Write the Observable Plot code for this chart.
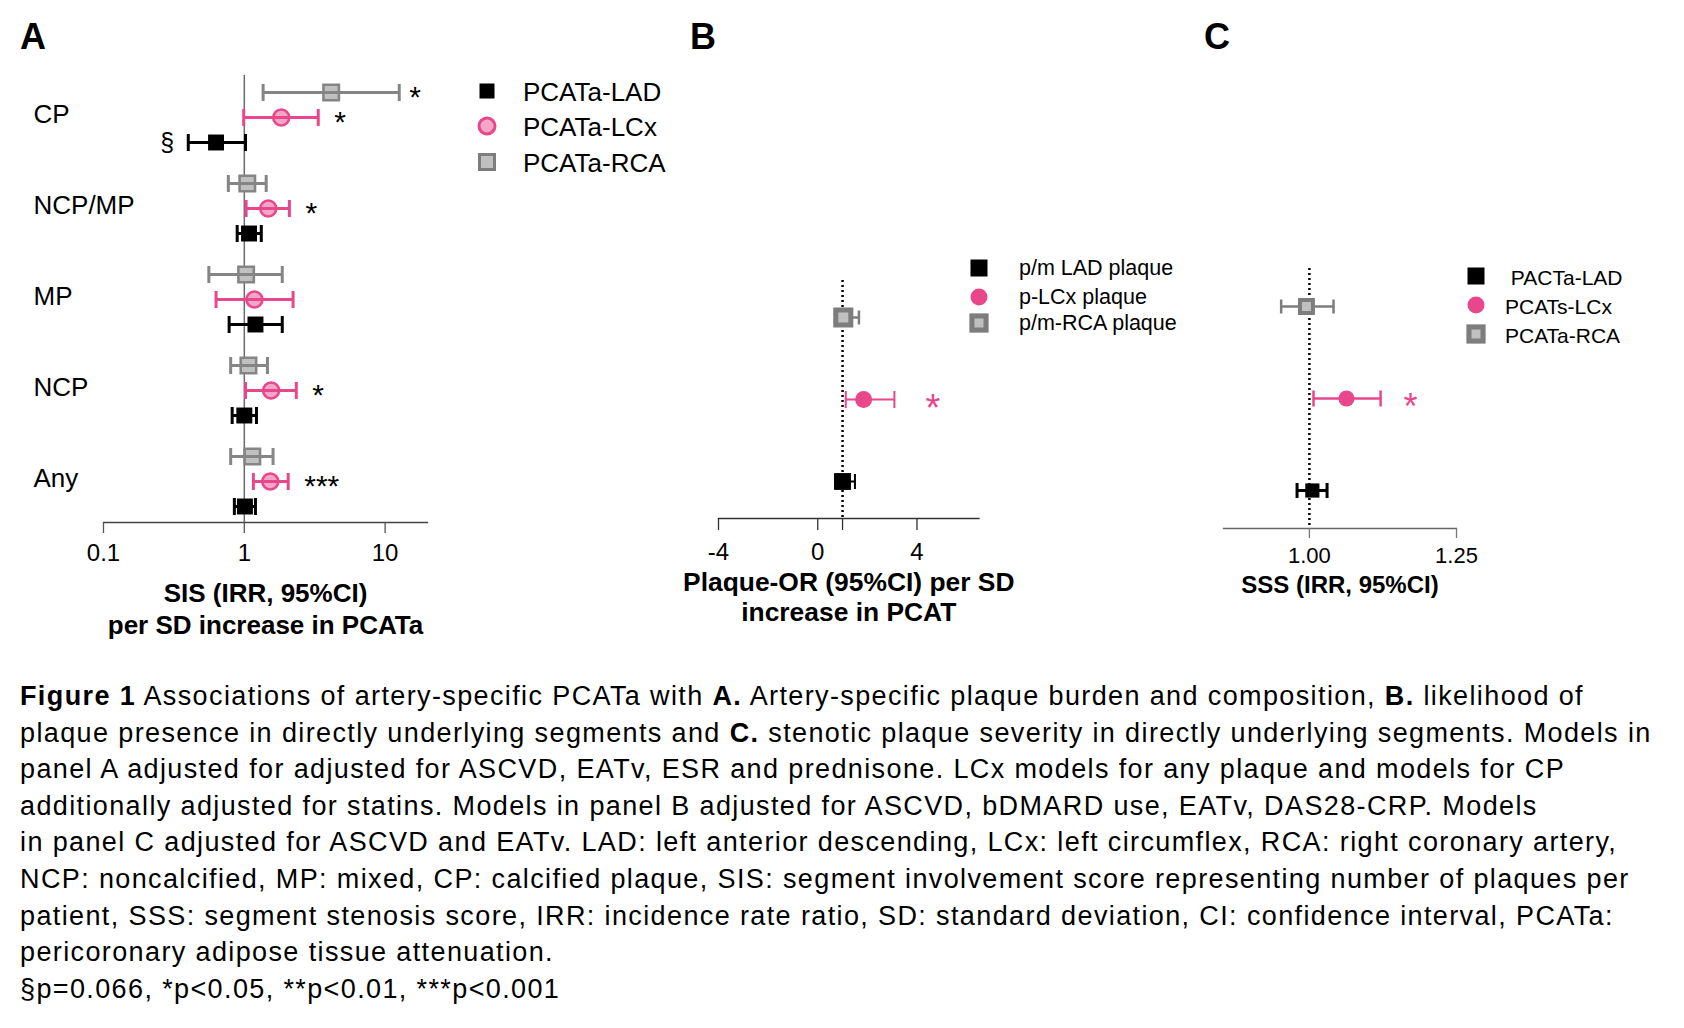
<!DOCTYPE html>
<html><head><meta charset="utf-8">
<script src="https://cdn.jsdelivr.net/npm/d3@7"></script>
<script src="https://cdn.jsdelivr.net/npm/@observablehq/plot@0.6"></script>
<style>
html,body{margin:0;padding:0;background:#fff;}
#page{position:relative;width:1684px;height:1028px;font-family:"Liberation Sans",Arial,Helvetica,sans-serif;color:#000;overflow:hidden;background:#fff;}
.panel{position:absolute;top:0;}
.letter{position:absolute;font-weight:bold;font-size:36px;line-height:1;transform:translate(-50%,-50%);}
.lsym{position:absolute;box-sizing:border-box;transform:translate(-50%,-50%);}
.llab{position:absolute;line-height:1;white-space:pre;transform:translateY(-50%);}
#caption{position:absolute;left:20px;top:678px;font-size:27px;line-height:36.6px;letter-spacing:1.38px;white-space:nowrap;}
</style></head>
<body><div id="page"></div>
<script>
// ---------- Panel A data (SIS IRR, 95% CI) ----------
const groupsA = ["CP", "NCP/MP", "MP", "NCP", "Any"];
const ladEstA = [0.63, 1.08, 1.20, 1.00, 1.01];
const ladLoA  = [0.40, 0.89, 0.78, 0.82, 0.85];
const ladHiA  = [1.02, 1.32, 1.86, 1.22, 1.20];
const ladSigA = ["§", "", "", "", ""];
const lcxEstA = [1.83, 1.48, 1.18, 1.55, 1.53];
const lcxLoA  = [0.99, 1.03, 0.63, 1.02, 1.16];
const lcxHiA  = [3.35, 2.09, 2.22, 2.34, 2.05];
const lcxSigA = ["*", "*", "", "*", "***"];
const rcaEstA = [4.14, 1.05, 1.03, 1.07, 1.14];
const rcaLoA  = [1.36, 0.77, 0.56, 0.80, 0.80];
const rcaHiA  = [12.6, 1.43, 1.86, 1.46, 1.60];
const rcaSigA = ["*", "", "", "", ""];
const seriesA = ["PCATa-LAD", "PCATa-LCx", "PCATa-RCA"];
const ticksA = [0.1, 1, 10];

// ---------- Panel B data (plaque OR, 95% CI) ----------
const rowsB = ["RCA", "LCx", "LAD"];
const estB = [1.03, 1.85, 1.00];
const loB  = [0.70, 1.13, 0.70];
const hiB  = [1.66, 3.09, 1.50];
const sigB = ["", "*", ""];
const seriesB = ["p/m LAD plaque", "p-LCx plaque", "p/m-RCA plaque"];
const ticksB = [-4, 0, 1, 4];

// ---------- Panel C data (SSS IRR, 95% CI) ----------
const rowsC = ["RCA", "LCx", "LAD"];
const estC = [0.995, 1.063, 1.005];
const loC  = [0.952, 1.007, 0.979];
const hiC  = [1.041, 1.121, 1.030];
const sigC = ["", "*", ""];
const seriesC = [" PACTa-LAD", "PCATs-LCx", "PCATa-RCA"];
const ticksC = [1.00, 1.25];

const PINK = "#E8478B", PINK_L = "#F3A6C7", GRAY = "#858585", GRAY_L = "#C0C0C0";
const FONT = '"Liberation Sans", Arial, Helvetica, sans-serif';

const capSym = {draw(ctx, size) { const h = Math.sqrt(size / Math.PI); ctx.moveTo(0, -h); ctx.lineTo(0, h); }};

function rows(keys, est, lo, hi, sig) {
  return keys.map((g, i) => ({g, est: est[i], lo: lo[i], hi: hi[i], sig: sig[i]}));
}
function forest(data, s) {
  const dot = Plot.dot(data, {x: "est", y: "g", dy: s.dy, symbol: s.symbol, r: s.r,
    fill: s.fill, stroke: s.stroke || "none", strokeWidth: s.sw || 0});
  const bar = Plot.ruleY(data, {x1: "lo", x2: "hi", y: "g", dy: s.dy, stroke: s.color, strokeWidth: s.barW});
  const c1 = Plot.dot(data, {x: "lo", y: "g", dy: s.dy, symbol: capSym, r: s.cap, fill: "none", stroke: s.color, strokeWidth: s.barW});
  const c2 = Plot.dot(data, {x: "hi", y: "g", dy: s.dy, symbol: capSym, r: s.cap, fill: "none", stroke: s.color, strokeWidth: s.barW});
  return s.barsOnTop ? [dot, bar, c1, c2] : [bar, c1, c2, dot];
}

const page = document.getElementById("page");
function place(el, left) { const d = document.createElement("div"); d.className = "panel"; d.style.left = left + "px"; d.appendChild(el); page.appendChild(d); }

// ---------- Panel A ----------
const ladA = rows(groupsA, ladEstA, ladLoA, ladHiA, ladSigA);
const lcxA = rows(groupsA, lcxEstA, lcxLoA, lcxHiA, lcxSigA);
const rcaA = rows(groupsA, rcaEstA, rcaLoA, rcaHiA, rcaSigA);
const plotA = Plot.plot({
  width: 440, height: 650, marginLeft: 103, marginRight: 13, marginTop: 75, marginBottom: 128,
  style: {fontFamily: FONT, fontSize: "24px", color: "#000", background: "transparent", overflow: "visible"},
  x: {type: "log", domain: [0.1, 20], axis: null},
  y: {type: "point", domain: groupsA, padding: 0.45, axis: null},
  marks: [
    Plot.ruleX([1], {stroke: "#6b6b6b", strokeWidth: 1.5}),
    Plot.frame({anchor: "bottom", stroke: "#444", strokeWidth: 1.3}),
    Plot.axisX({ticks: ticksA, tickFormat: d => String(d), tickSize: 11, tickPadding: 10, stroke: "#555", strokeWidth: 1.3, label: null, fontSize: 24}),
    ...forest(rcaA, {dy: -25, symbol: "square", r: 8.7, fill: GRAY_L, stroke: GRAY, sw: 2.6, color: GRAY, barW: 3, cap: 8.5, barsOnTop: true}),
    ...forest(lcxA, {dy: 0, symbol: "circle", r: 8, fill: PINK_L, stroke: PINK, sw: 2.6, color: PINK, barW: 3, cap: 8.5, barsOnTop: true}),
    ...forest(ladA, {dy: 25, symbol: "square", r: 9, fill: "#000", color: "#000", barW: 3, cap: 8.5, barsOnTop: true}),
    Plot.text(rcaA.filter(d => d.sig), {x: "hi", y: "g", dy: -25 + 5, dx: 10, text: "sig", textAnchor: "start", fontSize: 30}),
    Plot.text(lcxA.filter(d => d.sig), {x: "hi", y: "g", dy: 5, dx: 16, text: "sig", textAnchor: "start", fontSize: 30}),
    Plot.text(ladA.filter(d => d.sig), {x: "lo", y: "g", dy: 25, dx: -14, text: "sig", textAnchor: "end", fontSize: 25}),
    Plot.text(groupsA, {y: d => d, text: d => d, frameAnchor: "left", dx: -70, dy: -2.5, textAnchor: "start", fontSize: 26}),
    Plot.text(["SIS (IRR, 95%CI)\nper SD increase in PCATa"], {text: d => d, frameAnchor: "bottom", lineAnchor: "middle", dy: 85, lineHeight: 1.25, fontWeight: "bold", fontSize: 26})
  ]
});
place(plotA, 0);

// ---------- Panel B ----------
const dataB = rows(rowsB, estB, loB, hiB, sigB);
const plotB = Plot.plot({
  width: 400, height: 650, marginLeft: 78, marginRight: 61.5, marginTop: 280, marginBottom: 132,
  style: {fontFamily: FONT, fontSize: "24px", color: "#000", background: "transparent", overflow: "visible"},
  x: {domain: [-4, 6.5], axis: null},
  y: {type: "point", domain: rowsB, padding: 0.44, axis: null},
  marks: [
    Plot.ruleX([1], {stroke: "#000", strokeWidth: 2.5, strokeDasharray: "2,3"}),
    Plot.frame({anchor: "bottom", stroke: "#333", strokeWidth: 1.3}),
    Plot.axisX({ticks: ticksB, tickFormat: d => d === 1 ? "" : (d < 0 ? "-" + Math.abs(d) : String(d)), tickSize: 12, tickPadding: 12, stroke: "#333", strokeWidth: 1.3, label: null, fontSize: 24}),
    ...forest(dataB.filter(d => d.g === "RCA"), {dy: 0, symbol: "square", r: 8.5, fill: GRAY_L, stroke: "#7d7d7d", sw: 5, color: "#7d7d7d", barW: 2.5, cap: 7}),
    ...forest(dataB.filter(d => d.g === "LCx"), {dy: 0, symbol: "circle", r: 8.5, fill: PINK, color: PINK, barW: 2, cap: 8.5}),
    ...forest(dataB.filter(d => d.g === "LAD"), {dy: 0, symbol: "square", r: 9.5, fill: "#000", color: "#000", barW: 2, cap: 7.5}),
    Plot.text(dataB.filter(d => d.sig), {x: "hi", y: "g", dy: 9, dx: 31, text: "sig", textAnchor: "start", fontSize: 38, fill: PINK}),
    Plot.text(["Plaque-OR (95%CI) per SD\nincrease in PCAT"], {text: d => d, frameAnchor: "bottom", lineAnchor: "middle", dy: 78, lineHeight: 1.14, fontWeight: "bold", fontSize: 26.4})
  ]
});
place(plotB, 640);

// ---------- Panel C ----------
const dataC = rows(rowsC, estC, loC, hiC, sigC);
const plotC = Plot.plot({
  width: 400, height: 650, marginLeft: 83, marginRight: 84, marginTop: 268, marginBottom: 122,
  style: {fontFamily: FONT, fontSize: "22px", color: "#000", background: "transparent", overflow: "visible"},
  x: {domain: [0.854, 1.25], axis: null},
  y: {type: "point", domain: rowsC, padding: 0.4, axis: null},
  marks: [
    Plot.frame({anchor: "bottom", stroke: "#666", strokeWidth: 1.3}),
    Plot.axisX({ticks: ticksC, tickFormat: d3.format(".2f"), tickSize: 10, tickPadding: 9, stroke: "#777", strokeWidth: 1.3, label: null, fontSize: 22}),
    Plot.ruleX([1], {stroke: "#000", strokeWidth: 2.5, strokeDasharray: "2,3"}),
    ...forest(dataC.filter(d => d.g === "RCA"), {dy: 0, symbol: "square", r: 7.3, fill: GRAY_L, stroke: "#7d7d7d", sw: 4, color: "#7d7d7d", barW: 2.5, cap: 7}),
    ...forest(dataC.filter(d => d.g === "LCx"), {dy: 0, symbol: "circle", r: 8, fill: PINK, color: PINK, barW: 2.5, cap: 8}),
    ...forest(dataC.filter(d => d.g === "LAD"), {dy: 0, symbol: "square", r: 8, fill: "#000", color: "#000", barW: 3, cap: 7.5}),
    Plot.text(dataC.filter(d => d.sig), {x: "hi", y: "g", dy: 9, dx: 23, text: "sig", textAnchor: "start", fontSize: 36, fill: PINK}),
    Plot.text(["SSS (IRR, 95%CI)"], {text: d => d, frameAnchor: "bottom", lineAnchor: "middle", dy: 57, fontWeight: "bold", fontSize: 24})
  ]
});
place(plotC, 1140);

// ---------- Panel letters ----------
[["A", 33, 37], ["B", 703, 37], ["C", 1217, 37]].forEach(([t, x, y]) => {
  const d = document.createElement("div"); d.className = "letter"; d.textContent = t;
  d.style.left = x + "px"; d.style.top = y + "px"; page.appendChild(d);
});

// ---------- Legends ----------
const shapes = {
  ladA: {w: 15, h: 15, bg: "#000", border: "none", radius: 0},
  lcxA: {w: 19, h: 19, bg: PINK_L, border: "3px solid " + PINK, radius: "50%"},
  rcaA: {w: 18, h: 18, bg: GRAY_L, border: "3px solid #7d7d7d", radius: 0},
  ladB: {w: 17, h: 17, bg: "#000", border: "none", radius: 0},
  lcxB: {w: 17, h: 17, bg: PINK, border: "none", radius: "50%"},
  rcaB: {w: 19, h: 19, bg: GRAY_L, border: "5.5px solid #7d7d7d", radius: 0}
};
function legend(labels, shapeKeys, symX, labX, ys, fontSize) {
  labels.forEach((lab, i) => {
    const s = shapes[shapeKeys[i]];
    const sym = document.createElement("div"); sym.className = "lsym";
    Object.assign(sym.style, {left: symX + "px", top: ys[i] + "px", width: s.w + "px", height: s.h + "px", background: s.bg, border: s.border, borderRadius: s.radius});
    page.appendChild(sym);
    const t = document.createElement("div"); t.className = "llab"; t.textContent = lab;
    Object.assign(t.style, {left: labX + "px", top: (ys[i] + 1) + "px", fontSize: fontSize + "px"});
    page.appendChild(t);
  });
}
legend(seriesA, ["ladA", "lcxA", "rcaA"], 487, 523, [91, 126, 162], 26);
legend(seriesB, ["ladB", "lcxB", "rcaB"], 979, 1019, [268, 297, 323], 21.5);
legend(seriesC, ["ladB", "lcxB", "rcaB"], 1476, 1505, [276, 305, 334], 21);

// ---------- Caption ----------
const captionLines = [
  "<b>Figure 1</b> Associations of artery-specific PCATa with <b>A.</b> Artery-specific plaque burden and composition, <b>B.</b> likelihood of",
  "plaque presence in directly underlying segments and <b>C.</b> stenotic plaque severity in directly underlying segments. Models in",
  "panel A adjusted for adjusted for ASCVD, EATv, ESR and prednisone. LCx models for any plaque and models for CP",
  "additionally adjusted for statins. Models in panel B adjusted for ASCVD, bDMARD use, EATv, DAS28-CRP. Models",
  "in panel C adjusted for ASCVD and EATv. LAD: left anterior descending, LCx: left circumflex, RCA: right coronary artery,",
  "NCP: noncalcified, MP: mixed, CP: calcified plaque, SIS: segment involvement score representing number of plaques per",
  "patient, SSS: segment stenosis score, IRR: incidence rate ratio, SD: standard deviation, CI: confidence interval, PCATa:",
  "pericoronary adipose tissue attenuation.",
  "§p=0.066, *p&lt;0.05, **p&lt;0.01, ***p&lt;0.001"
];
const cap = document.createElement("div"); cap.id = "caption";
cap.innerHTML = captionLines.map(l => "<div>" + l + "</div>").join("");
page.appendChild(cap);
</script>
</body></html>
